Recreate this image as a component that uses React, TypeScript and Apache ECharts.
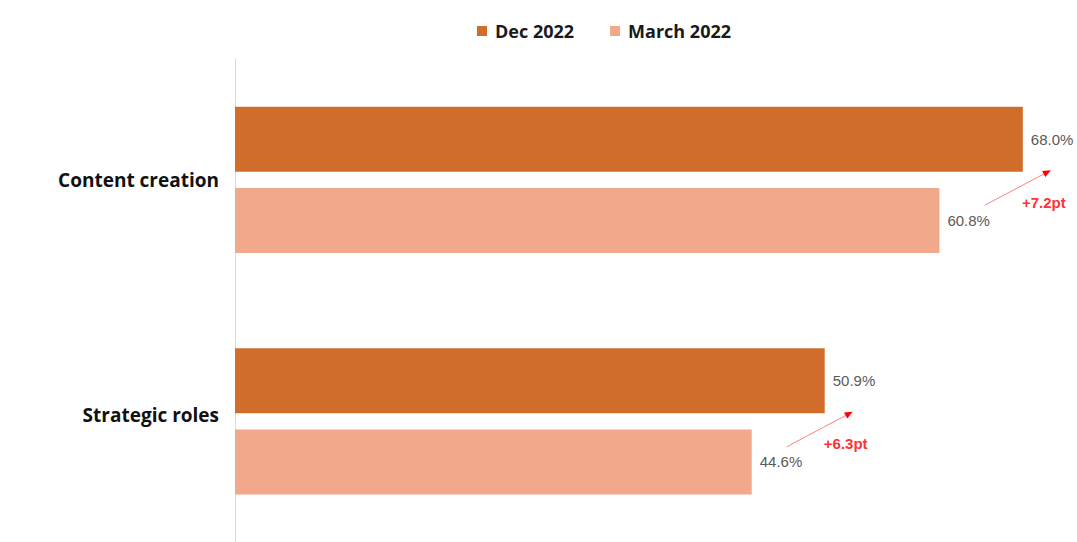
import React, { useEffect, useRef } from "react";
import * as echarts from "echarts";

const categories = ["Content creation", "Strategic roles"];
const seriesNames = ["Dec 2022", "March 2022"];
const dec2022 = [68.0, 50.9];
const march2022 = [60.8, 44.6];

const COLOR_DEC = "#D16D2B";
const COLOR_MAR = "#F1A88B";

export default function App() {
  const ref = useRef<HTMLDivElement>(null);
  useEffect(() => {
    if (!ref.current) return;
    const chart = echarts.init(ref.current, undefined, { renderer: "svg" });
    const labelStyle = {
      show: true,
      position: "right" as const,
      distance: 8,
      color: "#595959",
      fontSize: 15,
      fontFamily: "Liberation Sans, Arial, sans-serif",
      formatter: (p: any) => Number(p.value).toFixed(1) + "%",
    };
    const catFont = {
      fontSize: 19,
      fontWeight: "bold" as const,
      color: "#111",
      fontFamily: "Open Sans, Noto Sans, sans-serif",
    };
    chart.setOption({
      animation: false,
      legend: {
        data: seriesNames,
        left: 472,
        top: 17,
        itemWidth: 10,
        itemHeight: 10,
        itemGap: 36,
        icon: "rect",
        textStyle: {
          fontSize: 18,
          fontWeight: "bold",
          color: "#1a1a1a",
          fontFamily: "Open Sans, Noto Sans, sans-serif",
          padding: [0, 0, 0, 3],
        },
      },
      grid: { left: 235, top: 59, width: 811, height: 487 },
      xAxis: {
        type: "value",
        min: 0,
        max: 70,
        show: false,
      },
      yAxis: {
        type: "category",
        data: categories,
        inverse: true,
        axisLine: { show: true, lineStyle: { color: "#d9d9d9", width: 1 } },
        axisTick: { show: false },
        axisLabel: {
          margin: 16,
          ...catFont,
          formatter: (v: string, idx: number) => (idx === 0 ? "{a|" + v + "}" : "{b|" + v + "}"),
          rich: {
            a: { ...catFont },
            b: { ...catFont, padding: [0, 0, 13, 0] },
          },
        },
      },
      series: [
        {
          name: seriesNames[0],
          type: "bar",
          data: dec2022,
          barWidth: 65,
          barGap: "25%",
          itemStyle: { color: COLOR_DEC },
          label: labelStyle,
        },
        {
          name: seriesNames[1],
          type: "bar",
          data: march2022,
          barWidth: 65,
          itemStyle: { color: COLOR_MAR },
          label: labelStyle,
        },
      ],
    });

    const graphics: any[] = [];
    categories.forEach((cat, i) => {
      const decPt = chart.convertToPixel({ gridIndex: 0 }, [dec2022[i], cat]) as number[];
      const tipX = decPt[0] + 28;
      const tipY = decPt[1] - 9.5;
      const sx = tipX - 66;
      const sy = tipY + 35;
      const dx = tipX - sx;
      const dy = tipY - sy;
      const len = Math.sqrt(dx * dx + dy * dy);
      const ux = dx / len;
      const uy = dy / len;
      const nx = -uy;
      const ny = ux;
      const hl = 8;
      const hw = 3.5;
      graphics.push({
        type: "line",
        shape: { x1: sx, y1: sy, x2: tipX - ux * hl, y2: tipY - uy * hl },
        style: { stroke: "#FF7F7F", lineWidth: 1 },
      });
      graphics.push({
        type: "polygon",
        shape: {
          points: [
            [tipX, tipY],
            [tipX - ux * hl + nx * hw, tipY - uy * hl + ny * hw],
            [tipX - ux * hl - nx * hw, tipY - uy * hl - ny * hw],
          ],
        },
        style: { fill: "#FF0000" },
      });
      const delta = (dec2022[i] - march2022[i]).toFixed(1);
      graphics.push({
        type: "text",
        x: tipX - 7,
        y: tipY + 32,
        style: {
          text: "+" + delta + "pt",
          fill: "#FF3333",
          fontSize: 15,
          fontWeight: "bold",
          fontFamily: "Liberation Sans, Arial, sans-serif",
          align: "center",
          verticalAlign: "middle",
        },
      });
    });
    chart.setOption({ graphic: graphics });

    return () => chart.dispose();
  }, []);
  return (
    <div
      ref={ref}
      style={{ position: "absolute", left: 0, top: 0, width: 1077, height: 542, background: "#fff" }}
    />
  );
}
